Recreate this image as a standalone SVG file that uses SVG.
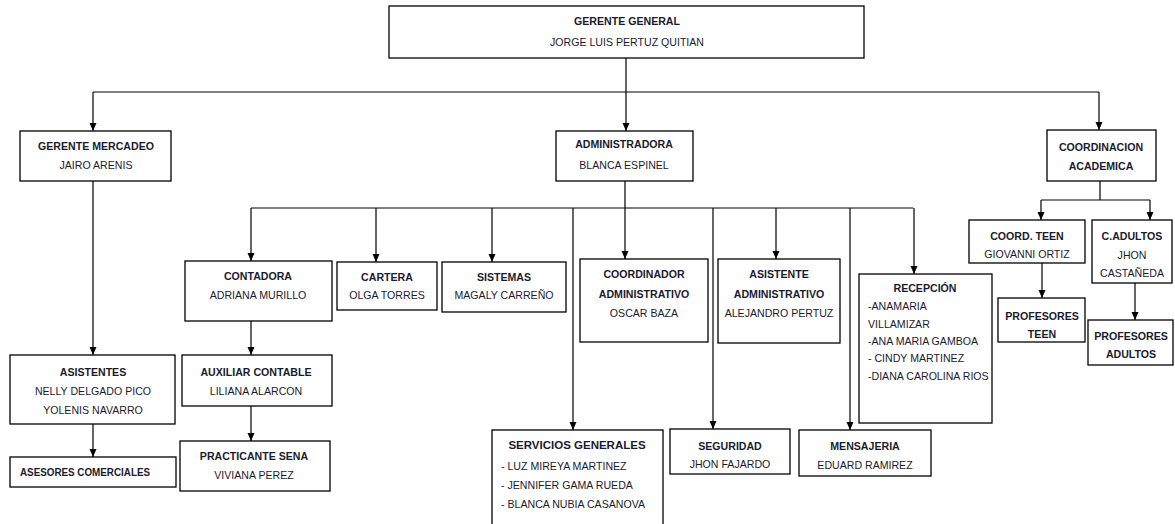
<svg xmlns="http://www.w3.org/2000/svg" width="1175" height="524" viewBox="0 0 1175 524">
<style>
.box{fill:#fff;stroke:#000;stroke-width:1.3}
.c{fill:none;stroke:#000;stroke-width:1.2}
text{font-family:"Liberation Sans",Arial,sans-serif;font-size:10.6px;fill:#1a1a2e}
.b{font-weight:bold}
.m{text-anchor:middle}
</style>
<defs>
<marker id="ah" markerWidth="8" markerHeight="8" refX="8" refY="4" orient="auto" markerUnits="userSpaceOnUse">
<path d="M0,0.5 L8,4 L0,7.5 z" fill="#000"/>
</marker>
</defs>
<rect width="1175" height="524" fill="#fff"/>
<g id="connectors">
<path class="c" d="M626,58 V92 M93,92 H1099 M625,181 V208 M251,208 H913 M1100,181 V200 M1041,200 H1150"/>
<path class="c" marker-end="url(#ah)" d="M93,92 V131"/>
<path class="c" marker-end="url(#ah)" d="M626,92 V131"/>
<path class="c" marker-end="url(#ah)" d="M1099,92 V130"/>
<path class="c" marker-end="url(#ah)" d="M93,181 V355"/>
<path class="c" marker-end="url(#ah)" d="M93,424 V457"/>
<path class="c" marker-end="url(#ah)" d="M251,208 V261"/>
<path class="c" marker-end="url(#ah)" d="M376,208 V262"/>
<path class="c" marker-end="url(#ah)" d="M492,208 V262"/>
<path class="c" marker-end="url(#ah)" d="M573,208 V430"/>
<path class="c" marker-end="url(#ah)" d="M625,208 V259"/>
<path class="c" marker-end="url(#ah)" d="M713,208 V429"/>
<path class="c" marker-end="url(#ah)" d="M776,208 V259"/>
<path class="c" marker-end="url(#ah)" d="M850,208 V430"/>
<path class="c" marker-end="url(#ah)" d="M914,208 V274"/>
<path class="c" marker-end="url(#ah)" d="M251,321 V355"/>
<path class="c" marker-end="url(#ah)" d="M251,406 V441"/>
<path class="c" marker-end="url(#ah)" d="M1041,200 V220"/>
<path class="c" marker-end="url(#ah)" d="M1150,200 V220"/>
<path class="c" marker-end="url(#ah)" d="M1042,263 V298"/>
<path class="c" marker-end="url(#ah)" d="M1135,283 V320"/>
</g>
<g id="gerente-general">
<rect class="box" x="389" y="6" width="475" height="52"/>
<text class="b m" x="627" y="25">GERENTE GENERAL</text>
<text class="m" x="627" y="46">JORGE LUIS PERTUZ QUITIAN</text>
</g>
<g id="gerente-mercadeo">
<rect class="box" x="20" y="131" width="151" height="50"/>
<text class="b m" x="96" y="150">GERENTE MERCADEO</text>
<text class="m" x="96" y="169">JAIRO ARENIS</text>
</g>
<g id="administradora">
<rect class="box" x="556" y="131" width="137" height="50"/>
<text class="b m" x="624" y="148">ADMINISTRADORA</text>
<text class="m" x="624" y="169">BLANCA ESPINEL</text>
</g>
<g id="coordinacion-academica">
<rect class="box" x="1047" y="130" width="109" height="51"/>
<text class="b m" x="1101" y="151">COORDINACION</text>
<text class="b m" x="1101" y="170">ACADEMICA</text>
</g>
<g id="asistentes">
<rect class="box" x="10" y="355" width="165" height="69"/>
<text class="b m" x="93" y="376">ASISTENTES</text>
<text class="m" x="93" y="395">NELLY DELGADO PICO</text>
<text class="m" x="93" y="414">YOLENIS NAVARRO</text>
</g>
<g id="asesores">
<rect class="box" x="10" y="457" width="166" height="30"/>
<text class="b" x="20" y="476" textLength="130" lengthAdjust="spacingAndGlyphs">ASESORES COMERCIALES</text>
</g>
<g id="contadora">
<rect class="box" x="185" y="261" width="147" height="60"/>
<text class="b m" x="258" y="280">CONTADORA</text>
<text class="m" x="258" y="299">ADRIANA  MURILLO</text>
</g>
<g id="cartera">
<rect class="box" x="337" y="262" width="100" height="48"/>
<text class="b m" x="387" y="281">CARTERA</text>
<text class="m" x="387" y="299">OLGA TORRES</text>
</g>
<g id="sistemas">
<rect class="box" x="442" y="262" width="124" height="50"/>
<text class="b m" x="504" y="281">SISTEMAS</text>
<text class="m" x="504" y="299">MAGALY CARREÑO</text>
</g>
<g id="coordinador-administrativo">
<rect class="box" x="580" y="259" width="128" height="83"/>
<text class="b m" x="644" y="278">COORDINADOR</text>
<text class="b m" x="644" y="298">ADMINISTRATIVO</text>
<text class="m" x="644" y="317">OSCAR BAZA</text>
</g>
<g id="asistente-administrativo">
<rect class="box" x="718" y="259" width="122" height="84"/>
<text class="b m" x="779" y="278">ASISTENTE</text>
<text class="b m" x="779" y="298">ADMINISTRATIVO</text>
<text class="m" x="779" y="317">ALEJANDRO PERTUZ</text>
</g>
<g id="recepcion">
<rect class="box" x="859" y="274" width="133" height="149"/>
<text class="b m" x="925" y="292">RECEPCIÓN</text>
<text x="868" y="310">-ANAMARIA</text>
<text x="868" y="328">VILLAMIZAR</text>
<text x="868" y="345">-ANA MARIA GAMBOA</text>
<text x="868" y="362">- CINDY MARTINEZ</text>
<text x="868" y="380">-DIANA CAROLINA RIOS</text>
</g>
<g id="coord-teen">
<rect class="box" x="969" y="220" width="116" height="43"/>
<text class="b m" x="1027" y="240">COORD. TEEN</text>
<text class="m" x="1027" y="258">GIOVANNI  ORTIZ</text>
</g>
<g id="c-adultos">
<rect class="box" x="1092" y="220" width="80" height="63"/>
<text class="b m" x="1132" y="240">C.ADULTOS</text>
<text class="m" x="1132" y="259">JHON</text>
<text class="m" x="1132" y="277">CASTAÑEDA</text>
</g>
<g id="profesores-teen">
<rect class="box" x="998" y="298" width="87" height="44"/>
<text class="b m" x="1042" y="320">PROFESORES</text>
<text class="b m" x="1042" y="338">TEEN</text>
</g>
<g id="profesores-adultos">
<rect class="box" x="1088" y="320" width="85" height="45"/>
<text class="b m" x="1131" y="340">PROFESORES</text>
<text class="b m" x="1131" y="358">ADULTOS</text>
</g>
<g id="auxiliar-contable">
<rect class="box" x="182" y="355" width="150" height="51"/>
<text class="b m" x="256" y="376">AUXILIAR CONTABLE</text>
<text class="m" x="256" y="395">LILIANA ALARCON</text>
</g>
<g id="practicante-sena">
<rect class="box" x="180" y="441" width="150" height="50"/>
<text class="b m" x="254" y="460">PRACTICANTE SENA</text>
<text class="m" x="254" y="479">VIVIANA PEREZ</text>
</g>
<g id="servicios-generales">
<rect class="box" x="492" y="430" width="171" height="100"/>
<text class="b m" x="577" y="449" style="font-size:11.5px">SERVICIOS GENERALES</text>
<text x="501" y="470">- LUZ MIREYA  MARTINEZ</text>
<text x="501" y="489">- JENNIFER GAMA RUEDA</text>
<text x="501" y="508">- BLANCA NUBIA CASANOVA</text>
</g>
<g id="seguridad">
<rect class="box" x="670" y="429" width="120" height="45"/>
<text class="b m" x="730" y="450">SEGURIDAD</text>
<text class="m" x="730" y="468">JHON FAJARDO</text>
</g>
<g id="mensajeria">
<rect class="box" x="799" y="430" width="132" height="46"/>
<text class="b m" x="865" y="450">MENSAJERIA</text>
<text class="m" x="865" y="469">EDUARD RAMIREZ</text>
</g>
</svg>
